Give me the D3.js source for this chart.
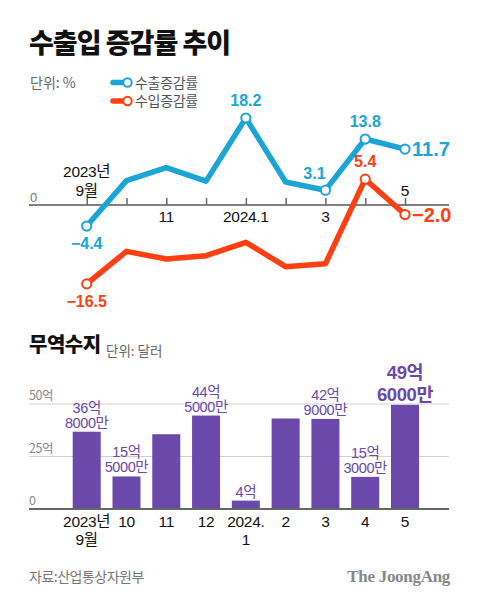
<!DOCTYPE html>
<html><head><meta charset="utf-8">
<script src="https://cdn.jsdelivr.net/npm/d3@7"></script>
<style>
html,body{margin:0;padding:0;background:#fff;}
svg{display:block;}
text{font-family:"Liberation Sans","Noto Sans CJK KR",sans-serif;}
text.kr{font-family:"Noto Sans CJK KR",sans-serif;}
text.serif{font-family:"Liberation Serif","DejaVu Serif",serif;}
</style></head>
<body>
<svg id="c" width="480" height="603"></svg>
<script>
// ---- data ----
const months = ["2023-09","2023-10","2023-11","2023-12","2024-01","2024-02","2024-03","2024-04","2024-05"];
const exportRate = [-4.4, 5.1, 7.8, 5.0, 18.2, 4.8, 3.1, 13.8, 11.7];
const importRate = [-16.5, -9.7, -11.3, -10.6, -7.8, -12.9, -12.3, 5.4, -2.0];
const lineTickLabels = ["2023년\n9월", "", "11", "", "2024.1", "", "3", "", "5"];
const tradeBalance = [36.8, 15.5, 35.6, 44.5, 4.0, 43.1, 42.9, 15.3, 49.6]; // 억 달러
const barLabels = ["36억\n8000만","15억\n5000만","","44억\n5000만","4억","","42억\n9000만","15억\n3000만","49억\n6000만"];
const barTickLabels = ["2023년\n9월","10","11","12","2024.\n1","2","3","4","5"];
const barAxisTicks = [0, 25, 50];

const BLUE = "#1aa5d6", RED = "#fe3f12", PURPLE = "#6a49aa";
const svg = d3.select("#c");

// ---- header ----
svg.append("text").attr("class","kr").attr("x",29).attr("y",53)
  .attr("font-size",27).attr("font-weight",900).attr("letter-spacing",-1).attr("fill","#111")
  .text("수출입 증감률 추이");
svg.append("text").attr("class","kr").attr("x",30).attr("y",88)
  .attr("font-size",14).attr("fill","#666").text("단위: %");

// legend
[["수출증감률",BLUE,82.5],["수입증감률",RED,101]].forEach(([t,c,y])=>{
  svg.append("line").attr("x1",113).attr("x2",126).attr("y1",y).attr("y2",y)
    .attr("stroke",c).attr("stroke-width",5.5).attr("stroke-linecap","round");
  svg.append("circle").attr("cx",127.5).attr("cy",y).attr("r",4.2)
    .attr("fill","#fff").attr("stroke",c).attr("stroke-width",2);
  svg.append("text").attr("class","kr").attr("x",135).attr("y",y+5)
    .attr("font-size",14).attr("fill","#555").attr("letter-spacing",-0.3).text(t);
});

// ---- line chart ----
const x = d3.scalePoint().domain(months).range([86.7, 405]);
const y = d3.scaleLinear().domain([-20, 20]).range([205 + 95.6, 205 - 95.6]);

svg.append("line").attr("x1",29).attr("x2",449).attr("y1",y(0)).attr("y2",y(0))
  .attr("stroke","#808080").attr("stroke-width",2);
const ax = svg.append("g").attr("transform",`translate(0,${y(0)})`)
  .call(d3.axisTop(x).tickSize(7).tickFormat(""));
ax.select(".domain").remove();
ax.selectAll(".tick line").attr("stroke","#666").attr("stroke-width",1.5);

svg.append("text").attr("x",30).attr("y",202).attr("font-size",13).attr("fill","#777").text("0");

lineTickLabels.forEach((lab,i)=>{
  if(!lab) return;
  const lines = lab.split("\n");
  const above = (i===0 || i===months.length-1);
  lines.forEach((l,k)=>{
    const yy = above ? 196 - (lines.length-1-k)*19 : 222 + k*18;
    svg.append("text").attr("x",x(months[i])).attr("y",yy).attr("text-anchor","middle")
      .attr("font-size",15.5).attr("fill","#111").attr("letter-spacing",-0.3).text(l);
  });
});

const line = d3.line().x((d,i)=>x(months[i])).y(d=>y(d)).curve(d3.curveLinear);
svg.append("path").datum(importRate).attr("d",line).attr("fill","none")
  .attr("stroke",RED).attr("stroke-width",5.5).attr("stroke-linejoin","round");
svg.append("path").datum(exportRate).attr("d",line).attr("fill","none")
  .attr("stroke",BLUE).attr("stroke-width",5.5).attr("stroke-linejoin","round");

const fmt = v => (v<0 ? "−" + Math.abs(v).toFixed(1) : v.toFixed(1));
const marked = [
  [exportRate,BLUE,0,"below"],[exportRate,BLUE,4,"above"],[exportRate,BLUE,6,"left"],
  [exportRate,BLUE,7,"above"],[exportRate,BLUE,8,"rightBig"],
  [importRate,RED,0,"below"],[importRate,RED,7,"above"],[importRate,RED,8,"rightBig"]
];
marked.forEach(([s,c,i,p])=>{
  const cx = x(months[i]), cy = y(s[i]);
  svg.append("circle").attr("cx",cx).attr("cy",cy).attr("r",4.6)
    .attr("fill","#fff").attr("stroke",c).attr("stroke-width",2);
  const t = svg.append("text").attr("fill",c).attr("font-weight",700).text(fmt(s[i]));
  if(p==="below") t.attr("x",cx).attr("y",cy+23).attr("text-anchor","middle").attr("font-size",16);
  if(p==="above") t.attr("x",cx).attr("y",cy-12).attr("text-anchor","middle").attr("font-size",16);
  if(p==="left") t.attr("x",cx-11).attr("y",cy-11).attr("text-anchor","middle").attr("font-size",16);
  if(p==="rightBig") t.attr("x",cx+7).attr("y",cy+7).attr("text-anchor","start").attr("font-size",20);
});

// ---- bar chart ----
svg.append("text").attr("class","kr").attr("x",29).attr("y",352)
  .attr("font-size",20).attr("font-weight",900).attr("letter-spacing",-0.5).attr("fill","#111").text("무역수지");
svg.append("text").attr("class","kr").attr("x",106).attr("y",356)
  .attr("font-size",13.5).attr("fill","#666").text("단위: 달러");

const yb = d3.scaleLinear().domain([0,50]).range([509,404]);

barAxisTicks.forEach(v=>{
  if(v>0){
    svg.append("line").attr("x1",29).attr("x2",449).attr("y1",yb(v)).attr("y2",yb(v))
      .attr("stroke","#d0d0d0").attr("stroke-width",1);
  }
  svg.append("text").attr("class","kr").attr("x",29).attr("y",yb(v)-4)
    .attr("font-size",12.5).attr("fill","#888").attr("letter-spacing",-0.5)
    .text(v===0 ? "0" : v + "억");
});

svg.selectAll("rect.bar").data(tradeBalance).join("rect").attr("class","bar")
  .attr("x",(d,i)=>x(months[i]) - 14).attr("width",28)
  .attr("y",d=>yb(d)).attr("height",d=>yb(0)-yb(d)).attr("fill",PURPLE);

svg.append("line").attr("x1",29).attr("x2",449).attr("y1",yb(0)).attr("y2",yb(0))
  .attr("stroke","#666").attr("stroke-width",2);

barLabels.forEach((lab,i)=>{
  if(!lab) return;
  const lines = lab.split("\n");
  const big = i===months.length-1;
  const lh = big ? 22 : 15;
  const base = yb(tradeBalance[i]) - 4;
  lines.forEach((l,k)=>{
    svg.append("text").attr("x",x(months[i])).attr("y",base-(lines.length-1-k)*lh)
      .attr("text-anchor","middle").attr("font-size",big?18.5:14.5)
      .attr("font-weight",big?700:400).attr("letter-spacing",-0.4)
      .attr("fill",PURPLE).text(l);
  });
});

barTickLabels.forEach((lab,i)=>{
  lab.split("\n").forEach((l,k)=>{
    svg.append("text").attr("x",x(months[i])).attr("y",527+k*18).attr("text-anchor","middle")
      .attr("font-size",15.5).attr("fill","#111").attr("letter-spacing",-0.3).text(l);
  });
});

// ---- footer ----
svg.append("text").attr("class","kr").attr("x",29).attr("y",582)
  .attr("font-size",14).attr("fill","#777").attr("letter-spacing",-0.5).text("자료:산업통상자원부");
svg.append("text").attr("class","serif").attr("x",450).attr("y",582).attr("text-anchor","end")
  .attr("font-weight",700).attr("font-size",17).attr("fill","#888").attr("letter-spacing",-0.3).text("The JoongAng");
</script>
</body></html>
